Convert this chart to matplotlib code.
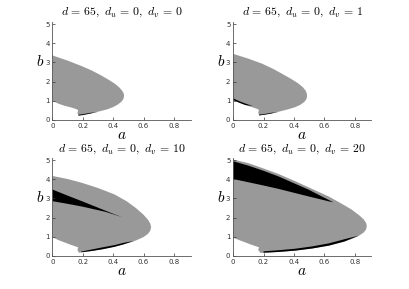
import matplotlib
matplotlib.use("Agg")
import matplotlib.pyplot as plt

plt.rcParams['mathtext.fontset'] = 'cm'
plt.rcParams['font.family'] = 'DejaVu Sans'

# panel parameters
d_val = 65
du_vals = [0, 0, 0, 0]
dv_vals = [0, 1, 10, 20]

x_ticks = [0, 0.2, 0.4, 0.6, 0.8]
x_tick_labels = ['0', '0.2', '0.4', '0.6', '0.8']
y_ticks = [0, 1, 2, 3, 4, 5]
y_tick_labels = ['0', '1', '2', '3', '4', '5']

# --- dv = 0 : gray region outline, black slivers
gray0_a = [0, 0.1, 0.19, 0.26, 0.32, 0.37, 0.41, 0.44, 0.46, 0.47, 0.472,
           0.468, 0.455, 0.43, 0.40, 0.36, 0.30, 0.24, 0.19, 0.175,
           0.165, 0.17, 0.16, 0.12, 0.08, 0.04, 0]
gray0_b = [3.37, 3.1, 2.82, 2.58, 2.33, 2.1, 1.9, 1.7, 1.52, 1.38, 1.25,
           1.1, 0.95, 0.8, 0.67, 0.55, 0.43, 0.33, 0.25, 0.22,
           0.35, 0.5, 0.56, 0.66, 0.74, 0.85, 1.0]
black0_a = [[0.17, 0.2, 0.25, 0.3, 0.25, 0.2, 0.17]]
black0_b = [[0.23, 0.25, 0.33, 0.42, 0.37, 0.3, 0.27]]

# --- dv = 1
gray1_a = [0, 0.1, 0.19, 0.26, 0.32, 0.38, 0.43, 0.46, 0.478, 0.485, 0.487,
           0.483, 0.47, 0.445, 0.41, 0.36, 0.30, 0.24, 0.19, 0.175,
           0.165, 0.17, 0.16, 0.12, 0.08, 0.04, 0]
gray1_b = [3.45, 3.2, 2.94, 2.68, 2.42, 2.15, 1.9, 1.7, 1.52, 1.38, 1.25,
           1.1, 0.95, 0.8, 0.67, 0.55, 0.43, 0.33, 0.26, 0.23,
           0.36, 0.52, 0.57, 0.68, 0.78, 0.9, 1.04]
black1_a = [[0, 0.04, 0.08, 0.13, 0.08, 0.04, 0],
            [0.17, 0.2, 0.25, 0.3, 0.25, 0.2, 0.17]]
black1_b = [[1.13, 0.98, 0.86, 0.72, 0.78, 0.9, 1.04],
            [0.24, 0.26, 0.33, 0.42, 0.37, 0.3, 0.28]]

# --- dv = 10
gray10_a = [0, 0.1, 0.19, 0.3, 0.41, 0.49, 0.55, 0.6, 0.63, 0.645, 0.65,
            0.645, 0.63, 0.6, 0.55, 0.47, 0.41, 0.33, 0.26, 0.19, 0.175,
            0.165, 0.17, 0.16, 0.12, 0.08, 0.04, 0]
gray10_b = [4.18, 4.02, 3.83, 3.55, 3.21, 2.85, 2.5, 2.15, 1.88, 1.68, 1.5,
            1.32, 1.15, 0.98, 0.8, 0.6, 0.47, 0.34, 0.25, 0.18, 0.16,
            0.3, 0.44, 0.47, 0.58, 0.7, 0.82, 0.98]
black10_a = [[0, 0.1, 0.2, 0.3, 0.4, 0.46, 0.35, 0.2, 0.1, 0],
             [0.19, 0.26, 0.33, 0.41, 0.47, 0.54, 0.47, 0.41, 0.33, 0.26, 0.19]]
black10_b = [[3.47, 3.15, 2.84, 2.52, 2.2, 2.02, 2.3, 2.57, 2.72, 2.86],
             [0.18, 0.25, 0.34, 0.47, 0.6, 0.78, 0.68, 0.56, 0.44, 0.33, 0.22]]

# --- dv = 20
gray20_a = [0, 0.1, 0.19, 0.3, 0.41, 0.52, 0.63, 0.72, 0.78, 0.83, 0.86, 0.875, 0.88,
            0.875, 0.86, 0.83, 0.78, 0.73, 0.63, 0.52, 0.41, 0.3, 0.22, 0.18,
            0.165, 0.17, 0.16, 0.12, 0.08, 0.04, 0]
gray20_b = [5.04, 4.85, 4.6, 4.28, 3.9, 3.5, 3.1, 2.7, 2.42, 2.12, 1.9, 1.72, 1.55,
            1.38, 1.22, 1.06, 0.88, 0.74, 0.53, 0.38, 0.27, 0.2, 0.16, 0.15,
            0.3, 0.45, 0.47, 0.58, 0.7, 0.82, 0.95]
black20_a = [[0, 0.1, 0.2, 0.3, 0.4, 0.5, 0.58, 0.63, 0.66, 0.63, 0.5, 0.4, 0.3, 0.2, 0.1, 0],
             [0.2, 0.3, 0.41, 0.52, 0.63, 0.73, 0.83, 0.73, 0.63, 0.52, 0.41, 0.3, 0.2]]
black20_b = [[4.95, 4.72, 4.45, 4.15, 3.8, 3.45, 3.12, 2.92, 2.8, 2.85, 3.1, 3.3, 3.5, 3.68, 3.85, 4.02],
             [0.16, 0.2, 0.27, 0.38, 0.53, 0.74, 1.06, 0.86, 0.65, 0.49, 0.37, 0.29, 0.23]]

grays = [(gray0_a, gray0_b), (gray1_a, gray1_b), (gray10_a, gray10_b), (gray20_a, gray20_b)]
blacks = [(black0_a, black0_b), (black1_a, black1_b), (black10_a, black10_b), (black20_a, black20_b)]

fig = plt.figure(figsize=(4.09, 2.89), dpi=100)
positions = [[0.128, 0.585, 0.338, 0.338], [0.570, 0.585, 0.338, 0.338],
             [0.128, 0.115, 0.338, 0.337], [0.570, 0.115, 0.338, 0.337]]

for i in range(4):
    ax = fig.add_axes(positions[i])
    ga, gb = grays[i]
    ax.fill(ga, gb, color='#999999', lw=0)
    ba_list, bb_list = blacks[i]
    for ba, bb in zip(ba_list, bb_list):
        ax.fill(ba, bb, color='black', lw=0)

    ax.set_xlim(0, 0.91)
    ax.set_ylim(0, 5.1)
    ax.set_xticks(x_ticks)
    ax.set_xticklabels(x_tick_labels)
    ax.set_yticks(y_ticks)
    ax.set_yticklabels(y_tick_labels)
    ax.tick_params(direction='in', length=2, width=0.5, labelsize=5,
                   colors='#333333', pad=2)
    for s in ['top', 'right']:
        ax.spines[s].set_visible(False)
    for s in ['left', 'bottom']:
        ax.spines[s].set_linewidth(0.6)
        ax.spines[s].set_color('#555555')

    ax.set_title(r'$d\,=\,%d,\ d_u\,=\,%d,\ d_v\,=\,%d$' % (d_val, du_vals[i], dv_vals[i]),
                 fontsize=8.5, pad=5)
    ax.set_xlabel('$a$', fontsize=11)
    ax.xaxis.set_label_coords(0.5, -0.075)
    ax.set_ylabel('$b$', fontsize=11, rotation=0)
    ax.yaxis.set_label_coords(-0.09, 0.52)

fig.savefig('out.png', dpi=100)
